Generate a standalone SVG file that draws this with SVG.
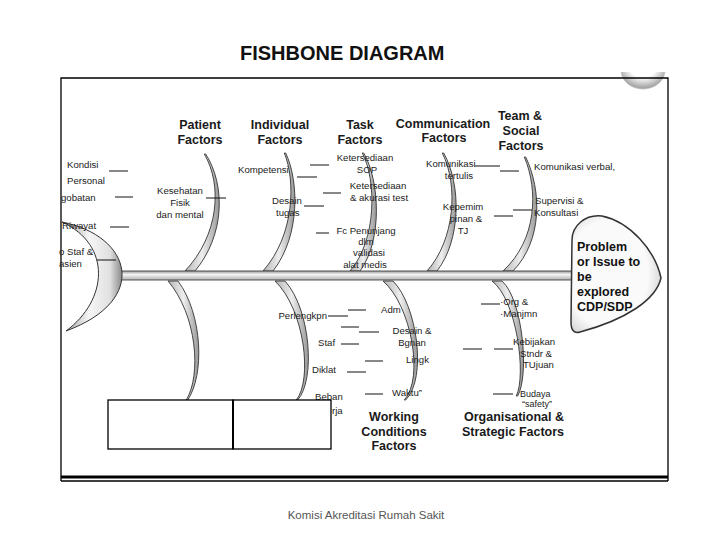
<svg xmlns="http://www.w3.org/2000/svg" width="720" height="540" viewBox="0 0 720 540">
<style>
.cat{font-family:"Liberation Sans",Arial,sans-serif;font-weight:bold;font-size:12.5px;fill:#1a1a1a;text-anchor:middle}
.hd{font-family:"Liberation Sans",Arial,sans-serif;font-weight:bold;font-size:12.5px;fill:#111}
.l{font-family:"Liberation Sans",Arial,sans-serif;font-size:9.6px;fill:#222}
.s{font-size:9px}
.m{text-anchor:middle}
.e{text-anchor:end}
.ln{stroke:#111;stroke-width:1}
.bone{fill:url(#boneG);stroke:#333;stroke-width:0.9}
.box{fill:#fff;stroke:#000;stroke-width:1.3}
</style>
<defs>
<linearGradient id="boneG" x1="0" y1="0" x2="1" y2="0">
<stop offset="0" stop-color="#b5b5b5"/><stop offset="0.5" stop-color="#eee"/><stop offset="1" stop-color="#999"/>
</linearGradient>
<linearGradient id="spineG" x1="0" y1="0" x2="0" y2="1">
<stop offset="0" stop-color="#9a9a9a"/><stop offset="0.4" stop-color="#f4f4f4"/><stop offset="1" stop-color="#b0b0b0"/>
</linearGradient>
<radialGradient id="headG" cx="0.4" cy="0.5" r="0.65">
<stop offset="0.7" stop-color="#fafafa"/><stop offset="1" stop-color="#cfcfcf"/>
</radialGradient>
<linearGradient id="tailG" x1="0" y1="0" x2="1" y2="0">
<stop offset="0" stop-color="#9a9a9a"/><stop offset="0.45" stop-color="#f6f6f6"/><stop offset="0.8" stop-color="#e0e0e0"/><stop offset="1" stop-color="#8a8a8a"/>
</linearGradient>
<radialGradient id="logoG" cx="0.5" cy="0.4" r="0.6">
<stop offset="0.5" stop-color="#ffffff"/><stop offset="1" stop-color="#9a9a9a"/>
</radialGradient>
<clipPath id="logoClip"><rect x="600" y="72" width="80" height="30"/></clipPath>
</defs>

<rect width="720" height="540" fill="#fff"/>

<g id="title">
<text x="240" y="60" font-family="'Liberation Sans',Arial,sans-serif" font-weight="bold" font-size="20" fill="#111">FISHBONE DIAGRAM</text>
</g>

<g id="logo" clip-path="url(#logoClip)">
<ellipse cx="643" cy="70" rx="22" ry="19" fill="url(#logoG)" stroke="#bbb" stroke-width="0.8"/>
</g>

<g id="frame" fill="none" stroke="#000">
<path d="M61,481 V78 H668 V481" stroke-width="1.3"/>
<line x1="61" y1="477" x2="668" y2="477" stroke-width="3"/>
<line x1="61" y1="481" x2="668" y2="481" stroke-width="1.3"/>
</g>

<g id="bones">
<path class="bone" d="M204.3,154 C222.5,185 219,235 185,271 L195,271 C225,235 225.5,185 205.7,154 Z"/>
<path class="bone" d="M284.3,153 C295.5,180 295,235 263,271 L273,271 C301,235 298.5,180 285.7,153 Z"/>
<path class="bone" d="M362.3,153 C376.5,180 377,240 350,271 L360,271 C383,240 379.5,180 363.7,153 Z"/>
<path class="bone" d="M442.3,153 C458.5,185 455,240 427,271 L437,271 C461,240 461.5,185 443.7,153 Z"/>
<path class="bone" d="M524.3,157 C538.5,190 537,240 503,271 L513,271 C543,240 541.5,190 525.7,157 Z"/>
<path class="bone" d="M168,281 C197,315 201.5,375 186.3,400 L187.7,400 C204.5,375 203,315 178,281 Z"/>
<path class="bone" d="M275,281 C305,310 312.5,380 296.3,400 L297.7,400 C315.5,380 311,310 285,281 Z"/>
<path class="bone" d="M383,281 C411,305 424.5,378 404.3,400 L405.7,400 C427.5,378 417,305 393,281 Z"/>
<path class="bone" d="M492,281 C517,300 526.5,375 516.3,396 L517.7,396 C529.5,375 523,300 502,281 Z"/>
</g>

<g id="spine">
<rect x="118" y="271" width="460" height="9" fill="url(#spineG)" stroke="#444" stroke-width="0.9"/>
</g>

<g id="tail">
<path d="M62,222 C132,236 150,300 66,331 C108,300 112,245 62,222 Z" fill="url(#tailG)" stroke="#333" stroke-width="1"/>
</g>

<g id="head">
<path d="M572,240 C572,226 585,214 602,216 C630,222 655,250 661,278 C656,300 625,320 580,332 C574,334 571,330 571,322 Z" fill="url(#headG)" stroke="#333" stroke-width="1.5"/>
<text class="hd" x="577" y="251">Problem</text>
<text class="hd" x="577" y="266">or Issue to</text>
<text class="hd" x="577" y="281">be</text>
<text class="hd" x="577" y="296">explored</text>
<text class="hd" x="577" y="311">CDP/SDP</text>
</g>

<g id="patient">
<text class="cat" x="200" y="129">Patient</text>
<text class="cat" x="200" y="144">Factors</text>
<text class="l" x="67" y="167.5">Kondisi</text>
<text class="l" x="67" y="183.5">Personal</text>
<text class="l" x="61" y="200.5">gobatan</text>
<text class="l" x="62" y="228.5">Riwayat</text>
<text class="l" x="59" y="255">o Staf &amp;</text>
<text class="l" x="59" y="267">asien</text>
<text class="l m" x="180" y="194">Kesehatan</text>
<text class="l m" x="180" y="205.5">Fisik</text>
<text class="l m" x="180" y="217.5">dan mental</text>
</g>

<g id="individual">
<text class="cat" x="280" y="128.5">Individual</text>
<text class="cat" x="280" y="143.5">Factors</text>
<text class="l" x="238" y="172.5">Kompetensi</text>
<text class="l" x="272" y="203.5">Desain</text>
<text class="l" x="276" y="216">tugas</text>
<text class="l e" x="327" y="318.5">Perlengkpn</text>
<text class="l" x="318" y="345.5">Staf</text>
<text class="l" x="312" y="372.5">Diklat</text>
<text class="l" x="315" y="400">Beban</text>
<text class="l" x="332" y="413.5">rja</text>
</g>

<g id="task">
<text class="cat" x="360" y="128.5">Task</text>
<text class="cat" x="360" y="143.5">Factors</text>
<text class="l m" x="365" y="161">Ketersediaan</text>
<text class="l m" x="367" y="172.5">SOP</text>
<text class="l m" x="378" y="189">Ketersediaan</text>
<text class="l m" x="379" y="200.5">&amp; akurasi test</text>
<text class="l m" x="366" y="234">Fc Penunjang</text>
<text class="l m" x="366" y="245.2">dlm</text>
<text class="l m" x="369" y="256.4">validasi</text>
<text class="l m" x="365" y="267.6">alat medis</text>
</g>

<g id="communication">
<text class="cat" x="443" y="127.5">Communication</text>
<text class="cat" x="444" y="142">Factors</text>
<text class="l" x="426" y="167">Komunikasi</text>
<text class="l m" x="459" y="178.5">tertulis</text>
<text class="l m" x="463" y="210">Kepemim</text>
<text class="l m" x="466" y="221.5">pinan &amp;</text>
<text class="l m" x="463" y="233.5">TJ</text>
</g>

<g id="team">
<text class="cat" x="520" y="120">Team &amp;</text>
<text class="cat" x="521" y="135">Social</text>
<text class="cat" x="521" y="150">Factors</text>
<text class="l" x="534" y="169.5">Komunikasi verbal,</text>
<text class="l" x="535" y="203.5">Supervisi &amp;</text>
<text class="l" x="534" y="216">Konsultasi</text>
</g>

<g id="working">
<text class="cat" x="394" y="420.5">Working</text>
<text class="cat" x="394" y="435.5">Conditions</text>
<text class="cat" x="394" y="450">Factors</text>
<text class="l" x="381" y="312.5">Adm</text>
<text class="l m" x="412" y="334">Desain &amp;</text>
<text class="l m" x="412" y="345.5">Bgnan</text>
<text class="l" x="406" y="362.5">Lingk</text>
<text class="l" x="392" y="395.5">Waktu”</text>
</g>

<g id="organisational">
<text class="cat" x="514" y="420.5">Organisational &amp;</text>
<text class="cat" x="513" y="436">Strategic Factors</text>
<text class="l" x="500" y="305">·Org &amp;</text>
<text class="l" x="500" y="317">·Manjmn</text>
<text class="l" x="513" y="345">Kebijakan</text>
<text class="l" x="520" y="356.5">Stndr &amp;</text>
<text class="l" x="523" y="368">TUjuan</text>
<text class="l s" x="520" y="396.5">Budaya</text>
<text class="l s" x="522" y="407">“safety”</text>
</g>

<g id="connectors">
<line class="ln" x1="109" y1="171" x2="128" y2="171"/>
<line class="ln" x1="115" y1="197" x2="133" y2="197"/>
<line class="ln" x1="110" y1="227" x2="129" y2="227"/>
<line class="ln" x1="97" y1="260" x2="116" y2="260"/>
<line class="ln" x1="206" y1="198" x2="226" y2="198"/>
<line class="ln" x1="310" y1="165" x2="329" y2="165"/>
<line class="ln" x1="297" y1="177" x2="317" y2="177"/>
<line class="ln" x1="323" y1="193" x2="341" y2="193"/>
<line class="ln" x1="304" y1="206" x2="324" y2="206"/>
<line class="ln" x1="316" y1="233" x2="329" y2="233"/>
<line class="ln" x1="475" y1="166" x2="500" y2="166"/>
<line class="ln" x1="500" y1="171" x2="519" y2="171"/>
<line class="ln" x1="494" y1="216" x2="513" y2="216"/>
<line class="ln" x1="513" y1="210" x2="532" y2="210"/>
<line class="ln" x1="328" y1="316" x2="348" y2="316"/>
<line class="ln" x1="348" y1="310" x2="366" y2="310"/>
<line class="ln" x1="341" y1="327" x2="359" y2="327"/>
<line class="ln" x1="359" y1="332" x2="379" y2="332"/>
<line class="ln" x1="341" y1="344" x2="359" y2="344"/>
<line class="ln" x1="365" y1="361" x2="383" y2="361"/>
<line class="ln" x1="347" y1="372" x2="366" y2="372"/>
<line class="ln" x1="365" y1="394" x2="383" y2="394"/>
<line class="ln" x1="481" y1="304" x2="500" y2="304"/>
<line class="ln" x1="463" y1="349" x2="482" y2="349"/>
<line class="ln" x1="494" y1="349" x2="513" y2="349"/>
<line class="ln" x1="493" y1="394" x2="513" y2="394"/>
</g>

<g id="boxes">
<rect class="box" x="108" y="400" width="125" height="49"/>
<rect class="box" x="233" y="400" width="98" height="49"/>
<line x1="233" y1="400" x2="233" y2="449" stroke="#000" stroke-width="2"/>
</g>

<g id="footer">
<text x="366" y="519" text-anchor="middle" font-family="'Liberation Sans',Arial,sans-serif" font-size="11.5" fill="#555">Komisi Akreditasi Rumah Sakit</text>
</g>
</svg>
